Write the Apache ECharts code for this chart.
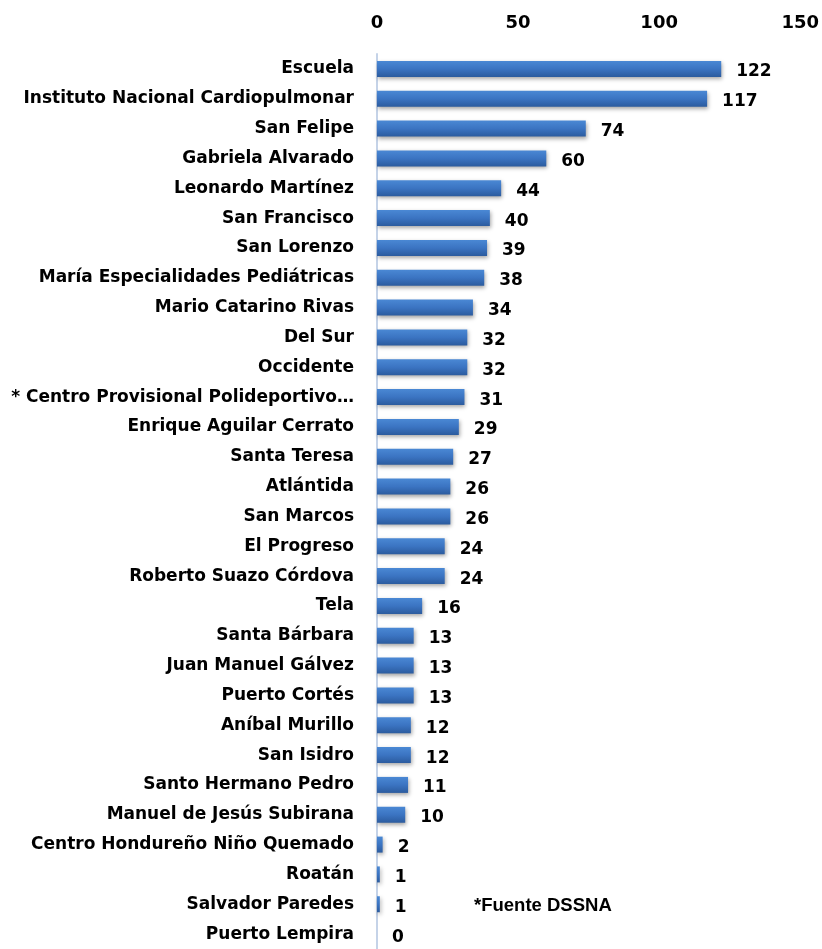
<!DOCTYPE html>
<html>
<head>
<meta charset="utf-8">
<script src="https://cdn.jsdelivr.net/npm/echarts@6/dist/echarts.min.js"></script>
<style>
  html, body { margin: 0; padding: 0; background: #fff; }
  #chart { width: 822px; height: 949px; }
</style>
</head>
<body>
<div id="chart"></div>
<script>
// hospitales (de arriba a abajo)
var hospitales = [
  'Escuela', 'Instituto Nacional Cardiopulmonar', 'San Felipe', 'Gabriela Alvarado',
  'Leonardo Martínez', 'San Francisco', 'San Lorenzo', 'María Especialidades Pediátricas',
  'Mario Catarino Rivas', 'Del Sur', 'Occidente', '* Centro Provisional Polideportivo…',
  'Enrique Aguilar Cerrato', 'Santa Teresa', 'Atlántida', 'San Marcos', 'El Progreso',
  'Roberto Suazo Córdova', 'Tela', 'Santa Bárbara', 'Juan Manuel Gálvez', 'Puerto Cortés',
  'Aníbal Murillo', 'San Isidro', 'Santo Hermano Pedro', 'Manuel de Jesús Subirana',
  'Centro Hondureño Niño Quemado', 'Roatán', 'Salvador Paredes', 'Puerto Lempira'
];
var casos = [122, 117, 74, 60, 44, 40, 39, 38, 34, 32, 32, 31, 29, 27, 26, 26, 24, 24,
  16, 13, 13, 13, 12, 12, 11, 10, 2, 1, 1, 0];
var ticks = [0, 50, 100, 150];

var fuente = 'DejaVu Sans';
var chart = echarts.init(document.getElementById('chart'));

var option = {
  backgroundColor: '#fff',
  grid: {
    left: 377,
    top: 54,
    width: 424,
    height: 901
  },
  xAxis: {
    type: 'value',
    position: 'top',
    min: ticks[0],
    max: ticks[ticks.length - 1],
    interval: 50,
    axisLine: { show: false },
    axisTick: { show: false },
    splitLine: { show: false },
    axisLabel: {
      margin: 22,
      fontFamily: fuente,
      fontWeight: 'bold',
      fontSize: 18,
      color: '#000'
    }
  },
  yAxis: {
    type: 'category',
    inverse: true,
    data: hospitales,
    axisLine: { show: true, lineStyle: { color: '#c5d3e8', width: 2 } },
    axisTick: { show: false },
    axisLabel: {
      margin: 23,
      fontFamily: fuente,
      fontWeight: 'bold',
      fontSize: 17,
      color: '#000'
    }
  },
  series: [{
    type: 'bar',
    data: casos,
    barWidth: 16,
    itemStyle: {
      color: new echarts.graphic.LinearGradient(0, 0, 0, 1, [
        { offset: 0, color: '#4a88d4' },
        { offset: 0.5, color: '#3b74c2' },
        { offset: 1, color: '#2b5b9e' }
      ]),
      shadowColor: 'rgba(0,0,0,0.35)',
      shadowBlur: 4,
      shadowOffsetX: 1,
      shadowOffsetY: 2
    },
    label: {
      show: true,
      position: 'right',
      distance: 15,
      offset: [0, 3],
      fontFamily: fuente,
      fontWeight: 'bold',
      fontSize: 17,
      color: '#000'
    }
  }],
  graphic: [{
    type: 'text',
    left: 474,
    top: 896,
    style: {
      text: '*Fuente DSSNA',
      fontFamily: 'Liberation Sans',
      fontWeight: 'bold',
      fontSize: 18.5,
      fill: '#000'
    }
  }]
};

chart.setOption(option);
</script>
</body>
</html>
